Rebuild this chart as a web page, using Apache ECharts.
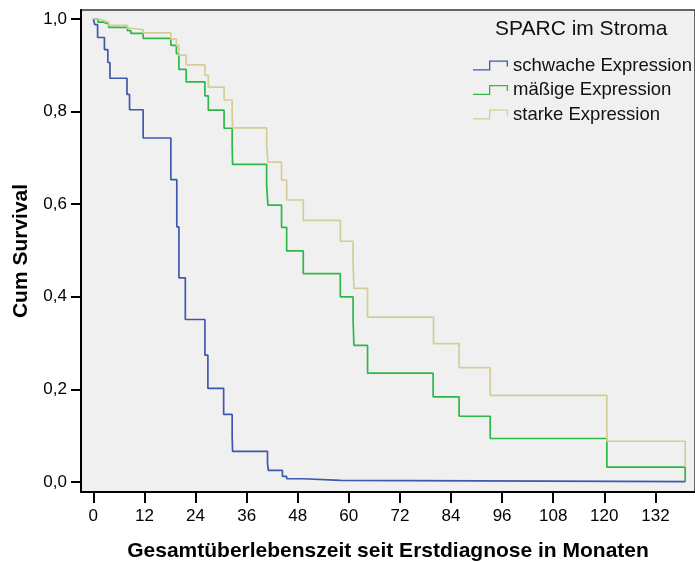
<!DOCTYPE html>
<html>
<head>
<meta charset="utf-8">
<script src="https://cdn.jsdelivr.net/npm/echarts@6/dist/echarts.min.js"></script>
<style>
  html, body { margin: 0; padding: 0; background: #fff; }
  #chart { width: 695px; height: 562px; }
</style>
</head>
<body>
<div id="chart"></div>
<script>
// Kaplan-Meier steps (months, cum survival)
var schwacheZeit = [0, 0.33, 1.0, 2.6, 3.4, 3.9, 7.9, 8.5, 11.7, 18.2, 19.6, 20.1, 21.6, 26.2, 26.9, 30.6, 32.6, 32.7, 40.9, 41.1, 44.4, 45.4, 49.2, 58.1, 139];
var schwacheWert = [1.0, 0.988, 0.96, 0.934, 0.906, 0.872, 0.837, 0.804, 0.743, 0.653, 0.551, 0.441, 0.351, 0.274, 0.202, 0.146, 0.099, 0.066, 0.041, 0.025, 0.012, 0.007, 0.0036, 0.001, 0.001];

var maessigeZeit = [0, 1.1, 2.4, 3.6, 8.0, 8.8, 11.7, 18.2, 19.5, 20.1, 21.8, 26.2, 27.0, 30.7, 32.6, 32.7, 40.7, 41.0, 44.2, 45.4, 49.3, 58.0, 61.0, 61.2, 64.4, 79.8, 85.9, 93.2, 120.6, 139];
var maessigeWert = [1.0, 0.993, 0.989, 0.982, 0.975, 0.969, 0.958, 0.943, 0.925, 0.891, 0.864, 0.834, 0.803, 0.764, 0.727, 0.686, 0.641, 0.598, 0.550, 0.499, 0.450, 0.400, 0.351, 0.295, 0.235, 0.184, 0.142, 0.094, 0.032, 0.0];

var starkeZeit = [0, 1.1, 2.4, 3.6, 8.0, 8.8, 11.7, 18.2, 19.5, 20.1, 21.8, 26.2, 27.0, 30.7, 32.6, 32.7, 40.7, 41.0, 44.2, 45.4, 49.3, 58.0, 61.0, 61.2, 64.4, 79.9, 85.9, 93.2, 120.6, 139];
var starkeWert = [1.0, 0.997, 0.993, 0.986, 0.980, 0.977, 0.970, 0.957, 0.943, 0.922, 0.901, 0.878, 0.853, 0.825, 0.796, 0.765, 0.729, 0.691, 0.652, 0.609, 0.565, 0.520, 0.472, 0.418, 0.356, 0.299, 0.247, 0.187, 0.088, 0.033];

var gruppen = ['schwache Expression', 'mäßige Expression', 'starke Expression'];
var farben = ['#3E58AC', '#2EB848', '#D3CE97'];

var xTicks = [0, 12, 24, 36, 48, 60, 72, 84, 96, 108, 120, 132];
var yTicks = [0, 0.2, 0.4, 0.6, 0.8, 1.0];

function paare(t, s) {
    return t.map(function (v, i) { return [v, s[i]]; });
}

var stufenIcon = 'path://M0,8.7 L16,8.7 L16,0 L35,0 L35,6 L33.7,6 L33.7,1.3 L17.3,1.3 L17.3,10 L0,10 Z';
var schrift = 'Liberation Sans, Arial, sans-serif';

var myChart = echarts.init(document.getElementById('chart'));
option = {
    animation: false,
    title: {
        text: 'SPARC im Stroma',
        left: 495,
        top: 19,
        padding: 0,
        textStyle: { fontFamily: schrift, fontSize: 21, fontWeight: 'normal', color: '#111' }
    },
    legend: {
        data: gruppen.map(function (g, i) {
            return {
                name: g,
                icon: stufenIcon,
                itemStyle: { color: farben[i], borderColor: farben[i], borderWidth: 0 }
            };
        }),
        orient: 'vertical',
        left: 473,
        top: 56,
        padding: 0,
        itemWidth: 35,
        itemHeight: 10,
        itemGap: 5.5,
        textStyle: { fontFamily: schrift, fontSize: 18.5, color: '#111', lineHeight: 18 }
    },
    grid: {
        left: 81,
        top: 10,
        right: 0,
        bottom: 70,
        outerBoundsMode: 'none',
        show: true,
        backgroundColor: '#F0F0F0',
        borderColor: '#333',
        borderWidth: 1.5
    },
    xAxis: {
        type: 'value',
        min: -2.9,
        max: 141.3,
        name: 'Gesamtüberlebenszeit seit Erstdiagnose in Monaten',
        nameLocation: 'middle',
        nameGap: 49,
        nameTextStyle: { fontFamily: schrift, fontSize: 21, fontWeight: 'bold', color: '#000' },
        axisLine: { show: true, onZero: false, lineStyle: { color: '#000', width: 2 } },
        axisTick: { show: true, length: 11, lineStyle: { color: '#000', width: 2 }, customValues: xTicks },
        axisLabel: { margin: 16, fontFamily: schrift, fontSize: 17, color: '#000', customValues: xTicks },
        splitLine: { show: false }
    },
    yAxis: {
        type: 'value',
        min: -0.0216,
        max: 1.0194,
        name: 'Cum Survival',
        nameLocation: 'middle',
        nameGap: 49,
        nameTextStyle: { fontFamily: schrift, fontSize: 21, fontWeight: 'bold', color: '#000' },
        axisLine: { show: true, onZero: false, lineStyle: { color: '#000', width: 2 } },
        axisTick: { show: true, length: 10, lineStyle: { color: '#000', width: 2 }, customValues: yTicks },
        axisLabel: {
            margin: 14,
            fontFamily: schrift,
            fontSize: 17,
            color: '#000',
            customValues: yTicks,
            formatter: function (v) { return v.toFixed(1).replace('.', ','); }
        },
        splitLine: { show: false }
    },
    series: [
        {
            name: gruppen[0],
            type: 'line',
            step: 'end',
            showSymbol: false,
            color: farben[0],
            lineStyle: { width: 1.7 },
            data: paare(schwacheZeit, schwacheWert)
        },
        {
            name: gruppen[1],
            type: 'line',
            step: 'end',
            showSymbol: false,
            color: farben[1],
            lineStyle: { width: 1.7 },
            data: paare(maessigeZeit, maessigeWert)
        },
        {
            name: gruppen[2],
            type: 'line',
            step: 'end',
            showSymbol: false,
            color: farben[2],
            lineStyle: { width: 1.7 },
            data: paare(starkeZeit, starkeWert)
        }
    ]
};
myChart.setOption(option);
</script>
</body>
</html>
